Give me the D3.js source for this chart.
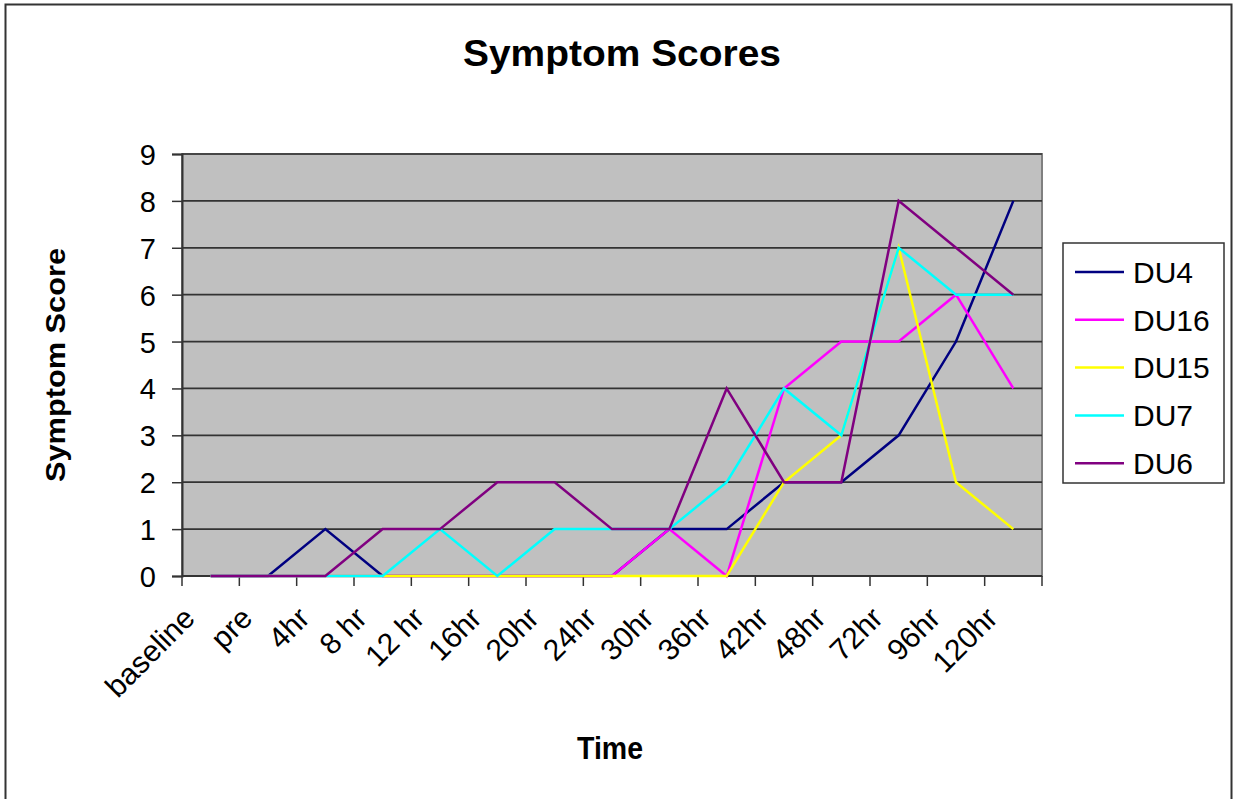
<!DOCTYPE html>
<html>
<head>
<meta charset="utf-8">
<script src="https://cdn.jsdelivr.net/npm/d3@7"></script>
<style>
  body { margin: 0; background: #fff; }
  svg text { font-family: "Liberation Sans", Arial, sans-serif; fill: #000; }
</style>
</head>
<body>
<svg id="chart"></svg>
<script>
// chart data
const categories = ["baseline", "pre", "4hr", "8 hr", "12 hr", "16hr", "20hr", "24hr", "30hr", "36hr", "42hr", "48hr", "72hr", "96hr", "120hr"];
const seriesNames = ["DU4", "DU16", "DU15", "DU7", "DU6"];
const du4 = [0, 0, 1, 0, 0, 0, 0, 0, 1, 1, 2, 2, 3, 5, 8];
const du16 = [0, 0, 0, 0, 0, 0, 0, 0, 1, 0, 4, 5, 5, 6, 4];
const du15 = [0, 0, 0, 0, 0, 0, 0, 0, 0, 0, 2, 3, 7, 2, 1];
const du7 = [0, 0, 0, 0, 1, 0, 1, 1, 1, 2, 4, 3, 7, 6, 6];
const du6 = [0, 0, 0, 1, 1, 2, 2, 1, 1, 4, 2, 2, 8, 7, 6];
const yTicks = [0, 1, 2, 3, 4, 5, 6, 7, 8, 9];

const seriesValues = [du4, du16, du15, du7, du6];
const colours = ["#000080", "#FF00FF", "#FFFF00", "#00FFFF", "#800080"];

const config = {
    width: 1233,
    height: 799,
    margin: { top: 154, right: 191, bottom: 223, left: 182 }
};

const svg = d3.select("#chart")
    .attr("width", config.width)
    .attr("height", config.height);

// outer chart border
svg.append("rect")
    .attr("x", 5.5).attr("y", 4.5)
    .attr("width", 1226).attr("height", 820)
    .attr("fill", "#fff")
    .attr("stroke", "#333")
    .attr("stroke-width", 2);

const width = config.width - config.margin.left - config.margin.right;
const height = config.height - config.margin.top - config.margin.bottom;

const chart = svg.append("g")
    .attr("transform", `translate(${config.margin.left},${config.margin.top})`);

const xBand = d3.scaleBand().domain(categories).range([0, width]);
const xScale = d => xBand(d) + xBand.bandwidth() / 2;
const yScale = d3.scaleLinear().domain([0, 9]).range([height, 0]);

// plot area
chart.append("rect")
    .attr("width", width).attr("height", height)
    .attr("fill", "#C0C0C0")
    .attr("stroke", "#808080")
    .attr("stroke-width", 2);

// gridlines
chart.selectAll(".grid")
    .data(yTicks.filter(d => d > 0))
    .enter().append("line")
    .attr("class", "grid")
    .attr("x1", 0).attr("x2", width)
    .attr("y1", d => yScale(d)).attr("y2", d => yScale(d))
    .attr("stroke", "#333")
    .attr("stroke-width", 1.7);

// y axis
const yAxis = d3.axisLeft(yScale)
    .tickValues(yTicks)
    .tickSize(10)
    .tickPadding(16)
    .tickFormat(d3.format("d"));

const yAxisG = chart.append("g").call(yAxis);
yAxisG.select(".domain").attr("stroke", "#333").attr("stroke-width", 2);
yAxisG.selectAll(".tick line").attr("stroke", "#333").attr("stroke-width", 1.5);
yAxisG.selectAll(".tick text")
    .attr("font-size", 29)
    .attr("dy", "0.36em")
    .attr("font-family", "Liberation Sans, Arial, sans-serif");

// x axis: ticks at category boundaries
const boundaries = categories.map(c => xBand(c)).concat([width]);
const xAxisG = chart.append("g").attr("transform", `translate(0,${height})`);
xAxisG.append("line")
    .attr("x1", 0).attr("x2", width)
    .attr("stroke", "#333").attr("stroke-width", 2);
xAxisG.selectAll(".xtick")
    .data(boundaries)
    .enter().append("line")
    .attr("class", "xtick")
    .attr("x1", d => d).attr("x2", d => d)
    .attr("y1", 0).attr("y2", 10)
    .attr("stroke", "#333").attr("stroke-width", 1.5);
xAxisG.selectAll(".xlabel")
    .data(categories)
    .enter().append("text")
    .attr("class", "xlabel")
    .attr("font-size", 30)
    .attr("text-anchor", "end")
    .attr("transform", d => `translate(${xScale(d) - 14},${44}) rotate(-45)`)
    .text(d => d);

// series lines
const line = d3.line()
    .x((d, i) => xScale(categories[i]))
    .y(d => yScale(d));

seriesValues.forEach((values, i) => {
    chart.append("path")
        .datum(values)
        .attr("d", line)
        .attr("fill", "none")
        .attr("stroke", colours[i])
        .attr("stroke-width", 2.5)
        .attr("stroke-linejoin", "miter");
});

// title
svg.append("text")
    .attr("x", 622).attr("y", 66)
    .attr("text-anchor", "middle")
    .attr("font-size", 36)
    .attr("font-weight", "bold")
    .attr("textLength", 318)
    .attr("lengthAdjust", "spacingAndGlyphs")
    .text("Symptom Scores");

// axis titles
svg.append("text")
    .attr("transform", "translate(65,365) rotate(-90)")
    .attr("text-anchor", "middle")
    .attr("font-size", 28)
    .attr("font-weight", "bold")
    .attr("textLength", 234)
    .attr("lengthAdjust", "spacingAndGlyphs")
    .text("Symptom Score");

svg.append("text")
    .attr("x", 610).attr("y", 759)
    .attr("text-anchor", "middle")
    .attr("font-size", 32)
    .attr("font-weight", "bold")
    .attr("textLength", 66)
    .attr("lengthAdjust", "spacingAndGlyphs")
    .text("Time");

// legend
const legend = svg.append("g")
    .attr("class", "legend")
    .attr("transform", "translate(1063,243)");

legend.append("rect")
    .attr("width", 161).attr("height", 240)
    .attr("fill", "#fff")
    .attr("stroke", "#333")
    .attr("stroke-width", 1.5);

const legendItems = legend.selectAll(".legend-item")
    .data(seriesNames)
    .enter().append("g")
    .attr("class", "legend-item")
    .attr("transform", (d, i) => `translate(0,${29 + i * 47.8})`);

legendItems.append("line")
    .attr("x1", 12).attr("x2", 61)
    .attr("stroke", (d, i) => colours[i])
    .attr("stroke-width", 2.5);

legendItems.append("text")
    .attr("x", 70)
    .attr("dy", "0.36em")
    .attr("font-size", 30)
    .text(d => d);
</script>
</body>
</html>
